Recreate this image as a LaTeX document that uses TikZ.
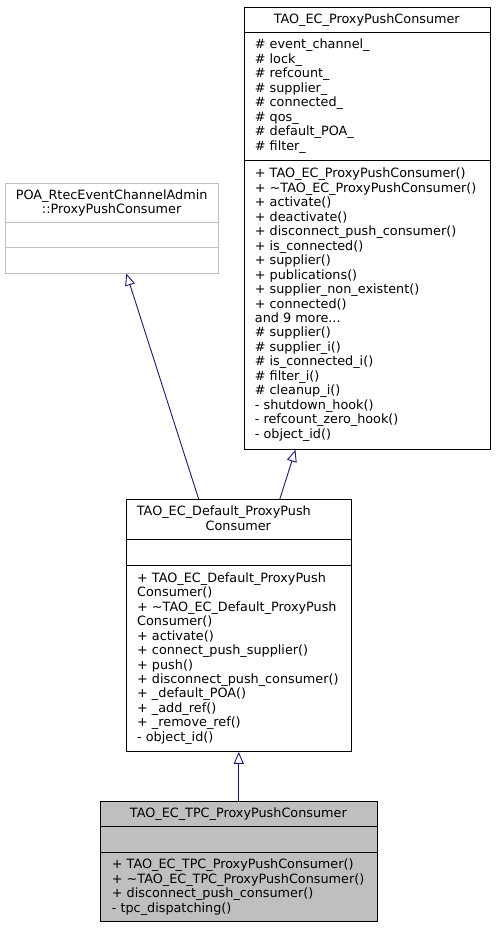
\documentclass[tikz,border=0pt]{standalone}
\usepackage{fontspec}
\setmainfont{DejaVu Sans}
\usetikzlibrary{arrows.meta,calc}
\definecolor{edgeblue}{HTML}{191970}
\definecolor{greyseventyfive}{HTML}{BFBFBF}
\tikzset{
  classbox/.style={draw=black, line width=0.8pt, fill=white, inner sep=0pt, anchor=north west},
  txt/.style={inner sep=0pt, font=\fontsize{12.8}{14.45}\selectfont, anchor=base west},
  ctxt/.style={txt, anchor=base},
  divider/.style={line width=0.8pt},
  inherit/.style={draw=edgeblue, line width=0.9pt, -{Triangle[open,length=12pt,width=10pt]}}
}
\newcommand\classlines[4]{%
  \foreach \t [count=\i] in {#4} \node[txt] (#1-\i) at (#2, {#3+(\i-1)*14.45}) {\t};}
\begin{document}
\begin{tikzpicture}[x=1pt,y=-1pt]
\useasboundingbox (0,0) rectangle (495,928);

% ---- TAO_EC_ProxyPushConsumer
\node[classbox, minimum width=246.5pt, minimum height=441.7pt] (T) at (243.5,7.3) {};
\draw[divider] ($(T.north west)+(0,24.7)$) -- ($(T.north east)+(0,24.7)$);
\draw[divider] ($(T.north west)+(0,153)$) -- ($(T.north east)+(0,153)$);
\node[ctxt] (T-title) at (366.75,23.2) {TAO\_EC\_ProxyPushConsumer};
\classlines{Ta}{254.7}{49}{\# event\_channel\_, \# lock\_, \# refcount\_, \# supplier\_, \# connected\_, \# qos\_, \# default\_POA\_, \# filter\_}
\classlines{To}{254.7}{178}{+ TAO\_EC\_ProxyPushConsumer(), + \textasciitilde TAO\_EC\_ProxyPushConsumer(), + activate(), + deactivate(), + disconnect\_push\_consumer(), + is\_connected(), + supplier(), + publications(), + supplier\_non\_existent(), + connected(), and 9 more.{}.{}., \# supplier(), \# supplier\_i(), \# is\_connected\_i(), \# filter\_i(), \# cleanup\_i(), - shutdown\_hook(), - refcount\_zero\_hook(), - object\_id()}

% ---- POA_RtecEventChannelAdmin::ProxyPushConsumer
\node[classbox, draw=greyseventyfive, minimum width=213.3pt, minimum height=90pt] (P) at (5,182.7) {};
\draw[divider, greyseventyfive] ($(P.north west)+(0,39.6)$) -- ($(P.north east)+(0,39.6)$);
\draw[divider, greyseventyfive] ($(P.north west)+(0,65)$) -- ($(P.north east)+(0,65)$);
\node[ctxt] (P-title1) at (111.65,199.2) {POA\_RtecEventChannelAdmin};
\node[ctxt] (P-title2) at (111.65,213.6) {::ProxyPushConsumer};

% ---- TAO_EC_Default_ProxyPushConsumer
\node[classbox, minimum width=225.3pt, minimum height=251.7pt] (D) at (125.7,499.3) {};
\draw[divider] ($(D.north west)+(0,39.7)$) -- ($(D.north east)+(0,39.7)$);
\draw[divider] ($(D.north west)+(0,66)$) -- ($(D.north east)+(0,66)$);
\node[txt] (D-title1) at (136.7,515.6) {TAO\_EC\_Default\_ProxyPush};
\node[ctxt] (D-title2) at (238.35,530.1) {Consumer};
\classlines{Do}{137}{582.3}{+ TAO\_EC\_Default\_ProxyPush, Consumer(), + \textasciitilde TAO\_EC\_Default\_ProxyPush, Consumer(), + activate(), + connect\_push\_supplier(), + push(), + disconnect\_push\_consumer(), + \_default\_POA(), + \_add\_ref(), + \_remove\_ref(), - object\_id()}

% ---- TAO_EC_TPC_ProxyPushConsumer
\node[classbox, fill=greyseventyfive, minimum width=276.7pt, minimum height=120pt] (C) at (100,801) {};
\draw[divider] ($(C.north west)+(0,25.7)$) -- ($(C.north east)+(0,25.7)$);
\draw[divider] ($(C.north west)+(0,51.3)$) -- ($(C.north east)+(0,51.3)$);
\node[ctxt] (C-title) at (238.35,817.8) {TAO\_EC\_TPC\_ProxyPushConsumer};
\classlines{Co}{111.7}{868.7}{+ TAO\_EC\_TPC\_ProxyPushConsumer(), + \textasciitilde TAO\_EC\_TPC\_ProxyPushConsumer(), + disconnect\_push\_consumer(), - tpc\_dispatching()}

% ---- inheritance edges (arrow at the base class)
\draw[inherit] ($(D.north)+(-40,0)$) -- ($(P.south)+(14.3,0)$);
\draw[inherit] ($(D.north)+(41,0)$) -- ($(T.south)+(-71.7,0)$);
\draw[inherit] (C.north) -- (D.south);
\end{tikzpicture}
\end{document}
